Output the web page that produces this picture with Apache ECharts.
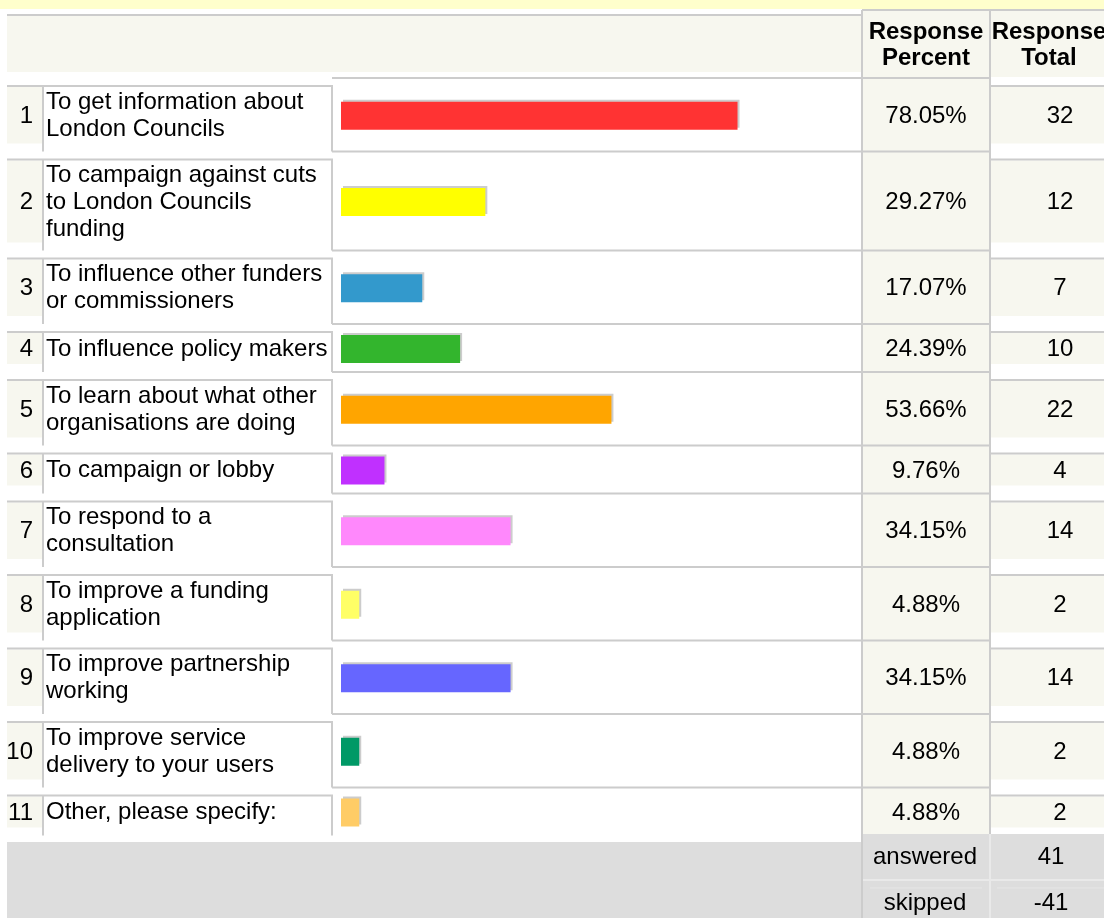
<!DOCTYPE html>
<html>
<head>
<meta charset="utf-8">
<script src="https://cdn.jsdelivr.net/npm/echarts@6/dist/echarts.min.js"></script>
<style>
html,body{margin:0;padding:0;background:#fff;}
#chart{width:1104px;height:918px;}
</style>
</head>
<body>
<div id="chart"></div>
<script>
// ---- data ----
const rowNumbers = ['1','2','3','4','5','6','7','8','9','10','11'];
const categories = [
  'To get information about\nLondon Councils',
  'To campaign against cuts\nto London Councils\nfunding',
  'To influence other funders\nor commissioners',
  'To influence policy makers',
  'To learn about what other\norganisations are doing',
  'To campaign or lobby',
  'To respond to a\nconsultation',
  'To improve a funding\napplication',
  'To improve partnership\nworking',
  'To improve service\ndelivery to your users',
  'Other, please specify:'
];
const percents = [78.05, 29.27, 17.07, 24.39, 53.66, 9.76, 34.15, 4.88, 34.15, 4.88, 4.88];
const totals = [32, 12, 7, 10, 22, 4, 14, 2, 14, 2, 2];
const barColors = ['#ff3333','#ffff00','#3399cc','#33b52d','#ffa500','#c030ff','#ff88fc','#ffff66','#6666ff','#009966','#ffcc66'];
const headerPercent = 'Response\nPercent';
const headerTotal = 'Response\nTotal';
const footerLabels = ['answered', 'skipped'];
const footerValues = [41, -41];

// ---- layout / style ----
const FONT = "'Liberation Sans', Arial, sans-serif";
const BEIGE = '#f7f7ef';
const BORDER = '#cccccc';
const FOOT = '#dddddd';
const TOP0 = 78;
const LINE_H = 25.5;
const BASE_H = 22.5;
const BAR_LEFT = 341;
const BAR_W = 510;

const chart = echarts.init(document.getElementById('chart'), null, {renderer: 'canvas'});

const grids = [], xAxes = [], yAxes = [], series = [], graphic = [];

function rect(x, y, w, h, fill) {
  graphic.push({type: 'rect', silent: true, z: 0, shape: {x, y, width: w, height: h}, style: {fill}});
}
function line(x1, y1, x2, y2, color, w) {
  graphic.push({type: 'line', silent: true, z: 1, shape: {x1, y1, x2, y2}, style: {stroke: color || BORDER, lineWidth: w || 2}});
}
function text(t, x, y, align, opts) {
  graphic.push({type: 'text', silent: true, z: 5, x, y, style: Object.assign({
    text: t, fill: '#000', font: '24px ' + FONT, align: align, verticalAlign: 'middle', lineHeight: 27
  }, opts || {})});
}

// top yellow band and header
rect(0, 0, 1104, 9, '#ffffcc');
rect(7, 16, 855, 56, BEIGE);
line(7, 15, 862, 15);
rect(862, 10, 128, 68, BEIGE);
rect(990, 11, 114, 66, BEIGE);
line(862, 10, 1104, 10);
text(headerPercent, 926, 45, 'center', {font: 'bold 24px ' + FONT, lineHeight: 26});
text(headerTotal, 1049, 45, 'center', {font: 'bold 24px ' + FONT, lineHeight: 26});

let rowTop = TOP0;
categories.forEach((cat, i) => {
  const lines = cat.split('\n').length;
  const h = BASE_H + LINE_H * lines;
  const bottom = rowTop + h;
  const mid = rowTop + h / 2;

  // number column + label cell
  rect(7, rowTop + 9, 36, h - 17, BEIGE);
  line(7, rowTop + 8, 333, rowTop + 8);
  line(43, rowTop + 8, 43, bottom);
  line(332, rowTop + 8, 332, bottom);
  // bar cell top border
  line(332, rowTop, 862, rowTop);
  // percent cell
  rect(862, rowTop, 128, h, BEIGE);
  line(862, rowTop, 990, rowTop);
  // total cell
  rect(990, rowTop + 9, 114, h - 17, BEIGE);
  line(990, rowTop + 8, 1104, rowTop + 8);

  text(rowNumbers[i], 33, mid + 1.5, 'right');
  text(percents[i].toFixed(2) + '%', 926, mid + 1.5, 'center');
  text(String(totals[i]), 1060, mid + 1.5, 'center');

  grids.push({left: BAR_LEFT, width: BAR_W, top: rowTop + 1, height: h, containLabel: false});
  xAxes.push({type: 'value', gridIndex: i, min: 1.35, max: 100, show: false});
  yAxes.push({
    type: 'category', gridIndex: i, data: [cat],
    axisLine: {show: false}, axisTick: {show: false}, splitLine: {show: false},
    axisLabel: {
      show: true, align: 'left', margin: BAR_LEFT - 46, color: '#000',
      fontFamily: FONT, fontSize: 24, lineHeight: 27, verticalAlign: 'middle'
    }
  });
  series.push({
    type: 'bar', xAxisIndex: i, yAxisIndex: i, data: [percents[i]],
    barWidth: 28, silent: true, z: 3,
    itemStyle: {color: barColors[i], shadowColor: BORDER, shadowBlur: 0, shadowOffsetX: 2, shadowOffsetY: -2}
  });
  rowTop = bottom;
});

// column verticals
line(862, 10, 862, 918);
line(990, 10, 990, 834);

// footer
rect(7, 842, 855, 76, FOOT);
rect(862, 834, 242, 84, FOOT);
line(862, 880, 1104, 880, '#e9e9e9', 2);
line(990, 834, 990, 918, '#e9e9e9', 2);
line(870, 888, 982, 888, '#e6e6e6', 1);
line(997, 888, 1104, 888, '#e6e6e6', 1);
line(862, 834, 862, 918, BORDER, 2);
text(footerLabels[0], 925, 857, 'center');
text(String(footerValues[0]), 1051, 857, 'center');
text(footerLabels[1], 925, 903, 'center');
text(String(footerValues[1]), 1051, 903, 'center');

chart.setOption({
  animation: false,
  backgroundColor: '#ffffff',
  grid: grids,
  xAxis: xAxes,
  yAxis: yAxes,
  series: series,
  graphic: graphic
});
</script>
</body>
</html>
